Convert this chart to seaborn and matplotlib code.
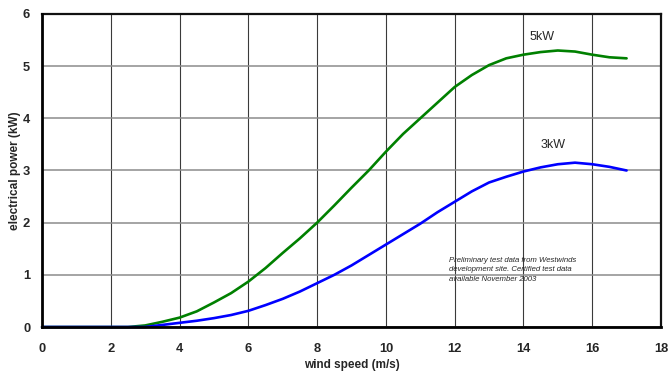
import matplotlib
matplotlib.use("Agg")
import matplotlib.pyplot as plt
import pandas as pd
import seaborn as sns

# Wind speed (m/s) at which the power was measured
wind_speed = [0, 1, 2, 2.5, 3, 3.5, 4, 4.5, 5, 5.5, 6, 6.5, 7, 7.5, 8, 8.5, 9,
              9.5, 10, 10.5, 11, 11.5, 12, 12.5, 13, 13.5, 14, 14.5, 15, 15.5,
              16, 16.5, 17]

# Electrical power output (kW) for each turbine
power_5kw = [0, 0, 0, 0, 0.03, 0.1, 0.18, 0.3, 0.47, 0.65, 0.87, 1.13, 1.42,
             1.7, 2.0, 2.33, 2.67, 3.0, 3.36, 3.7, 4.0, 4.3, 4.6, 4.83, 5.02,
             5.15, 5.22, 5.27, 5.3, 5.28, 5.22, 5.17, 5.15]
power_3kw = [0, 0, 0, 0, 0.0, 0.04, 0.08, 0.12, 0.17, 0.23, 0.31, 0.42, 0.54,
             0.68, 0.84, 1.0, 1.18, 1.38, 1.58, 1.78, 1.98, 2.2, 2.4, 2.6,
             2.77, 2.88, 2.98, 3.06, 3.12, 3.15, 3.12, 3.07, 3.0]

series_names = ["5kW", "3kW"]
series_colors = {"5kW": "#008000", "3kW": "#0000FF"}
x_ticks = [0, 2, 4, 6, 8, 10, 12, 14, 16, 18]
y_ticks = [0, 1, 2, 3, 4, 5, 6]
note_text = ("Preliminary test data from Westwinds\n"
             "development site. Certified test data\n"
             "available November 2003")

df = pd.DataFrame({
    "wind speed": wind_speed * 2,
    "power": power_5kw + power_3kw,
    "turbine": [series_names[0]] * len(wind_speed) + [series_names[1]] * len(wind_speed),
})

sns.set_style("white")
plt.rcParams["font.family"] = ["Liberation Sans", "DejaVu Sans"]

fig = plt.figure(figsize=(6.69, 3.73), dpi=100)
ax = fig.add_axes([0.0628, 0.1233, 0.9252, 0.8392])

sns.lineplot(data=df, x="wind speed", y="power", hue="turbine",
             palette=series_colors, linewidth=1.9, legend=False, ax=ax,
             zorder=3, clip_on=False)

ax.set_xlim(0, 18)
ax.set_ylim(0, 6)
ax.set_xticks(x_ticks)
ax.set_yticks(y_ticks)
ax.set_xticklabels([str(t) for t in x_ticks], fontsize=9.3, fontweight="bold")
ax.set_yticklabels([str(t) for t in y_ticks], fontsize=9.3, fontweight="bold")

# Grid: dark vertical lines, lighter horizontal lines
ax.xaxis.grid(True, color="#3a3a3a", linewidth=0.8)
ax.yaxis.grid(True, color="#8c8c8c", linewidth=1.1)
ax.set_axisbelow(True)

ax.tick_params(axis="both", which="major", direction="out", length=3.5,
               width=0.8, color="#7a7a7a")
ax.tick_params(axis="x", pad=8)
ax.tick_params(axis="y", pad=5)

for side in ["top", "right"]:
    ax.spines[side].set_color("#111111")
    ax.spines[side].set_linewidth(1.6)
for side in ["left", "bottom"]:
    ax.spines[side].set_color("black")
    ax.spines[side].set_linewidth(2.0)
    ax.spines[side].set_zorder(4)

ax.set_xlabel("wind speed (m/s)", fontsize=8.5, fontweight="bold", va="center")
ax.set_ylabel("electrical power (kW)", fontsize=8.5, fontweight="bold", va="center")
ax.xaxis.set_label_coords(0.5, -0.12)
ax.yaxis.set_label_coords(-0.0435, 0.5)

ax.text(14.53, 5.55, series_names[0], fontsize=9, ha="center", va="center")
ax.text(14.85, 3.49, series_names[1], fontsize=9, ha="center", va="center")
ax.text(11.84, 1.34, note_text, fontsize=5.6, style="italic", ha="left",
        va="top", linespacing=1.45)

fig.savefig("out.png", dpi=100)
